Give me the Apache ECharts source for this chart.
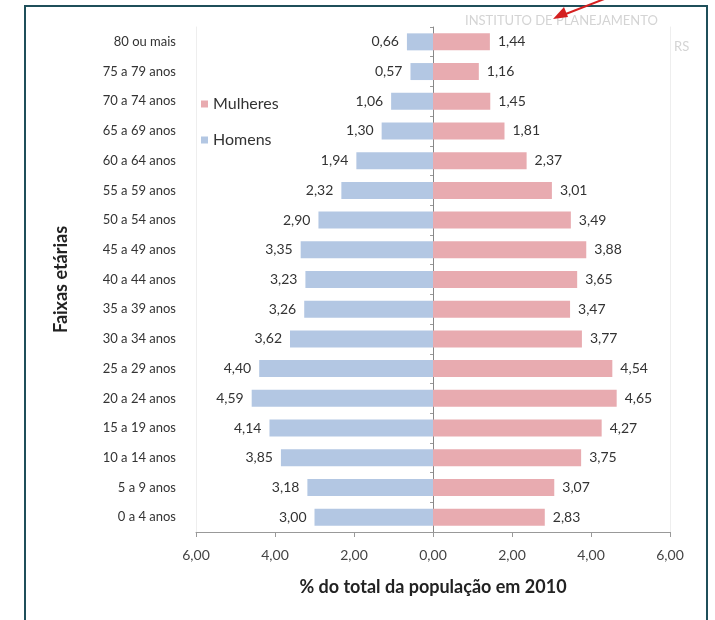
<!DOCTYPE html>
<html><head><meta charset="utf-8">
<script src="https://cdn.jsdelivr.net/npm/echarts@6/dist/echarts.min.js"></script>
<style>html,body{margin:0;padding:0;background:#fff}#c{width:715px;height:620px}</style>
</head><body><div id="c"></div>
<script>
const categories = ['80 ou mais','75 a 79 anos','70 a 74 anos','65 a 69 anos','60 a 64 anos','55 a 59 anos','50 a 54 anos','45 a 49 anos','40 a 44 anos','35 a 39 anos','30 a 34 anos','25 a 29 anos','20 a 24 anos','15 a 19 anos','10 a 14 anos','5 a 9 anos','0 a 4 anos'];
const homens = [0.66,0.57,1.06,1.30,1.94,2.32,2.90,3.35,3.23,3.26,3.62,4.40,4.59,4.14,3.85,3.18,3.00];
const mulheres = [1.44,1.16,1.45,1.81,2.37,3.01,3.49,3.88,3.65,3.47,3.77,4.54,4.65,4.27,3.75,3.07,2.83];
const xTicks = [-6,-4,-2,0,2,4,6];

const FONT = 'Lato, "Liberation Sans", sans-serif';
const fmt = v => Math.abs(v).toFixed(2).replace('.', ',');
const chart = echarts.init(document.getElementById('c'));
chart.setOption({
  backgroundColor: '#fff',
  animation: false,
  textStyle: {fontFamily: FONT},
  grid: {left: 196, right: 45, top: 27, bottom: 88},
  legend: {
    orient: 'vertical', left: 196, top: 91, itemGap: 20,
    itemWidth: 7, itemHeight: 7, icon: 'rect',
    data: ['Mulheres','Homens'],
    textStyle: {fontFamily: FONT, fontSize: 16, color: '#333'}
  },
  xAxis: {
    type: 'value', min: -6, max: 6, interval: 2,
    axisLine: {show: true, lineStyle: {color: '#999'}},
    axisTick: {show: true, length: 5, lineStyle: {color: '#999'}},
    splitLine: {show: false},
    axisLabel: {formatter: v => fmt(v), fontSize: 14, color: '#444', margin: 16, fontFamily: FONT},
    name: '% do total da população em 2010', nameLocation: 'middle', nameGap: 46,
    nameTextStyle: {fontSize: 18, fontWeight: 'bold', color: '#222', fontFamily: FONT}
  },
  yAxis: [{
    type: 'category', data: categories, inverse: true,
    axisLine: {show: true, onZero: false, lineStyle: {color: '#eee'}},
    axisTick: {show: false},
    axisLabel: {fontSize: 13, color: '#333', margin: 20, fontFamily: FONT},
    name: 'Faixas etárias', nameLocation: 'middle', nameGap: 126, nameRotate: 90,
    nameTextStyle: {fontSize: 18, fontWeight: 'bold', color: '#222', fontFamily: FONT}
  }, {
    type: 'category', data: categories, inverse: true, position: 'left',
    axisLine: {show: true, onZero: true, lineStyle: {color: '#888'}},
    axisTick: {show: true, length: 3, lineStyle: {color: '#999'}},
    axisLabel: {show: false}
  }, {
    type: 'category', data: categories, inverse: true, position: 'right',
    axisLine: {show: true, lineStyle: {color: '#eee'}},
    axisTick: {show: false}, axisLabel: {show: false}
  }],
  series: [{
    name: 'Homens', type: 'bar', barWidth: 17, barGap: '-100%',
    data: homens.map(v => -v),
    itemStyle: {color: '#b3c7e3'},
    label: {show: true, position: 'left', distance: 8, formatter: p => fmt(p.value), fontSize: 14, color: '#333', fontFamily: FONT}
  }, {
    name: 'Mulheres', type: 'bar', barWidth: 17, barGap: '-100%',
    data: mulheres,
    itemStyle: {color: '#e8abb0'},
    label: {show: true, position: 'right', distance: 8, formatter: p => fmt(p.value), fontSize: 14, color: '#333', fontFamily: FONT}
  }],
  graphic: [
    {type: 'rect', shape: {x: 25, y: 6, width: 682, height: 640}, style: {fill: 'none', stroke: '#1f4f5a', lineWidth: 2}, silent: true, z: 100},
    {type: 'text', left: 465, top: 14, style: {text: 'INSTITUTO DE PLANEJAMENTO', fill: '#d4d4d4', font: '13px ' + FONT}, z: 0},
    {type: 'text', left: 674, top: 40, style: {text: 'RS', fill: '#d4d4d4', font: '13px ' + FONT}, z: 0},
    {type: 'polyline', shape: {points: [[558, 17], [612, -4]]}, style: {stroke: '#d42020', lineWidth: 2}, z: 101},
    {type: 'polygon', shape: {points: [[553, 19], [564, 7], [568, 17]]}, style: {fill: '#d42020'}, z: 101}
  ]
});
</script></body></html>
